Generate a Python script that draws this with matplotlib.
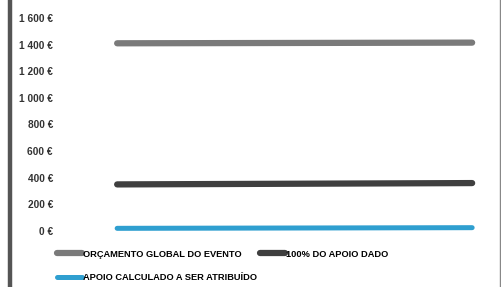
import matplotlib
matplotlib.use("Agg")
import matplotlib.pyplot as plt
from matplotlib.lines import Line2D
from matplotlib.ticker import FuncFormatter

plt.rcParams['font.family'] = ['Liberation Sans Narrow', 'Liberation Sans', 'DejaVu Sans']

categories = [0, 1]
orcamento = [1410, 1415]
apoio_100 = [350, 360]
apoio_calc = [20, 25]
yticks = [0, 200, 400, 600, 800, 1000, 1200, 1400, 1600]

fig = plt.figure(figsize=(5.02, 2.87), dpi=100)
ax = fig.add_axes([71/502, 56/287, (497-71)/502, (231-18)/287])

l1, = ax.plot(categories, orcamento, color='#7a7a7a', lw=4.5, solid_capstyle='round',
              label='ORÇAMENTO GLOBAL DO EVENTO')
l2, = ax.plot(categories, apoio_100, color='#3f3f3f', lw=4.5, solid_capstyle='round',
              label='100% DO APOIO DADO')
l3, = ax.plot(categories, apoio_calc, color='#2f9fd0', lw=3.6, solid_capstyle='round',
              label='APOIO CALCULADO A SER ATRIBUÍDO')

ax.set_xlim(-0.13, 1.07)
ax.set_ylim(0, 1600)
ax.set_yticks(yticks)
ax.yaxis.set_major_formatter(FuncFormatter(lambda v, p: f"{int(v):,} €".replace(",", " ")))
ax.tick_params(axis='y', length=0, pad=13, labelsize=7.3, labelcolor='#333333')
for t in ax.get_yticklabels():
    t.set_fontweight('bold')
ax.set_xticks([])
for s in ax.spines.values():
    s.set_visible(False)

fig.legend(handles=[l1, l3, l2], loc='upper left', bbox_to_anchor=(53/502, 1 - 246/287),
           ncol=2, frameon=False, handlelength=2.7, handletextpad=0.15,
           columnspacing=0.25, labelspacing=1.55, borderaxespad=0,
           prop={'weight': 'bold', 'size': 6.7})

fig.add_artist(Line2D([10/502, 10/502], [0, 1], color='#555555', lw=3.2, transform=fig.transFigure))
fig.add_artist(Line2D([500/502, 500/502], [0, 1], color='#888888', lw=1, transform=fig.transFigure))

fig.savefig('out.png', dpi=100)
